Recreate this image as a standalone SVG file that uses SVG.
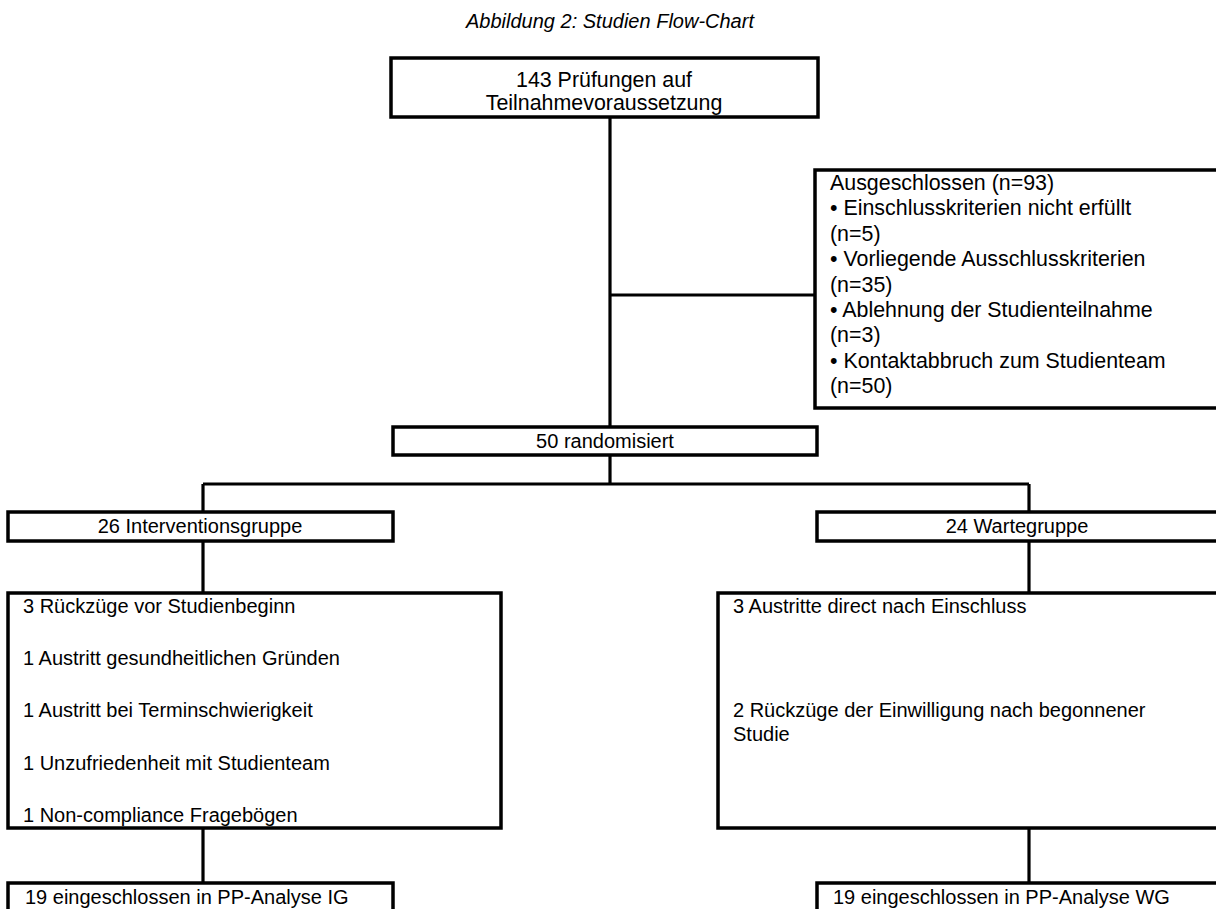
<svg xmlns="http://www.w3.org/2000/svg" width="1216" height="909" viewBox="0 0 1216 909">
<style>
  .box { fill: #ffffff; stroke: #000000; stroke-width: 3.5; }
  .t { font-family: "Liberation Sans", Arial, sans-serif; font-size: 20px; fill: #000000; }
  .big { font-size: 21.4px; }
  .c { text-anchor: middle; }
  .title { font-family: "Liberation Sans", Arial, sans-serif; font-size: 20px; font-style: italic; fill: #000000; text-anchor: middle; }
  .conn { fill: none; stroke: #000000; stroke-width: 3.2; }
</style>
<rect width="1216" height="909" fill="#ffffff"/>
<text class="title" x="610" y="28">Abbildung 2: Studien Flow-Chart</text>

<g id="connectors">
  <path class="conn" d="M610 117 V427"/>
  <path class="conn" d="M610 295 H815"/>
  <path class="conn" d="M610 455 V484"/>
  <path class="conn" d="M203 484 H1029"/>
  <path class="conn" d="M203 484 V512"/>
  <path class="conn" d="M1029 484 V512"/>
  <path class="conn" d="M203 541 V593"/>
  <path class="conn" d="M1029 541 V593"/>
  <path class="conn" d="M203 828 V883"/>
  <path class="conn" d="M1029 828 V883"/>
</g>

<g id="screening">
  <rect class="box" x="391" y="58" width="427" height="59"/>
  <text class="t big c" x="604" y="87">143 Prüfungen auf</text>
  <text class="t big c" x="604" y="110">Teilnahmevoraussetzung</text>
</g>

<g id="excluded">
  <rect class="box" x="815" y="170" width="420" height="238"/>
  <text class="t big" x="830" y="190">Ausgeschlossen (n=93)</text>
  <text class="t big" x="830" y="215">• Einschlusskriterien nicht erfüllt</text>
  <text class="t big" x="830" y="241">(n=5)</text>
  <text class="t big" x="830" y="266">• Vorliegende Ausschlusskriterien</text>
  <text class="t big" x="830" y="292">(n=35)</text>
  <text class="t big" x="830" y="317">• Ablehnung der Studienteilnahme</text>
  <text class="t big" x="830" y="342">(n=3)</text>
  <text class="t big" x="830" y="368">• Kontaktabbruch zum Studienteam</text>
  <text class="t big" x="830" y="393">(n=50)</text>
</g>

<g id="randomised">
  <rect class="box" x="393" y="427" width="424" height="28"/>
  <text class="t c" x="605" y="448">50 randomisiert</text>
</g>

<g id="ig">
  <rect class="box" x="8" y="512" width="385" height="29"/>
  <text class="t c" x="200" y="533">26 Interventionsgruppe</text>
</g>

<g id="wg">
  <rect class="box" x="817" y="512" width="420" height="29"/>
  <text class="t c" x="1017" y="533">24 Wartegruppe</text>
</g>

<g id="ig-dropouts">
  <rect class="box" x="8" y="593" width="493" height="235"/>
  <text class="t" x="23" y="613">3 Rückzüge vor Studienbeginn</text>
  <text class="t" x="23" y="665">1 Austritt gesundheitlichen Gründen</text>
  <text class="t" x="23" y="717">1 Austritt bei Terminschwierigkeit</text>
  <text class="t" x="23" y="770">1 Unzufriedenheit mit Studienteam</text>
  <text class="t" x="23" y="822">1 Non-compliance Fragebögen</text>
</g>

<g id="wg-dropouts">
  <rect class="box" x="718" y="593" width="520" height="235"/>
  <text class="t" x="733" y="613">3 Austritte direct nach Einschluss</text>
  <text class="t" x="733" y="717">2 Rückzüge der Einwilligung nach begonnener</text>
  <text class="t" x="733" y="741">Studie</text>
</g>

<g id="ig-pp">
  <rect class="box" x="8" y="883" width="385" height="50"/>
  <text class="t" x="25" y="904">19 eingeschlossen in PP-Analyse IG</text>
</g>

<g id="wg-pp">
  <rect class="box" x="817" y="883" width="420" height="50"/>
  <text class="t" x="833" y="904">19 eingeschlossen in PP-Analyse WG</text>
</g>
</svg>
